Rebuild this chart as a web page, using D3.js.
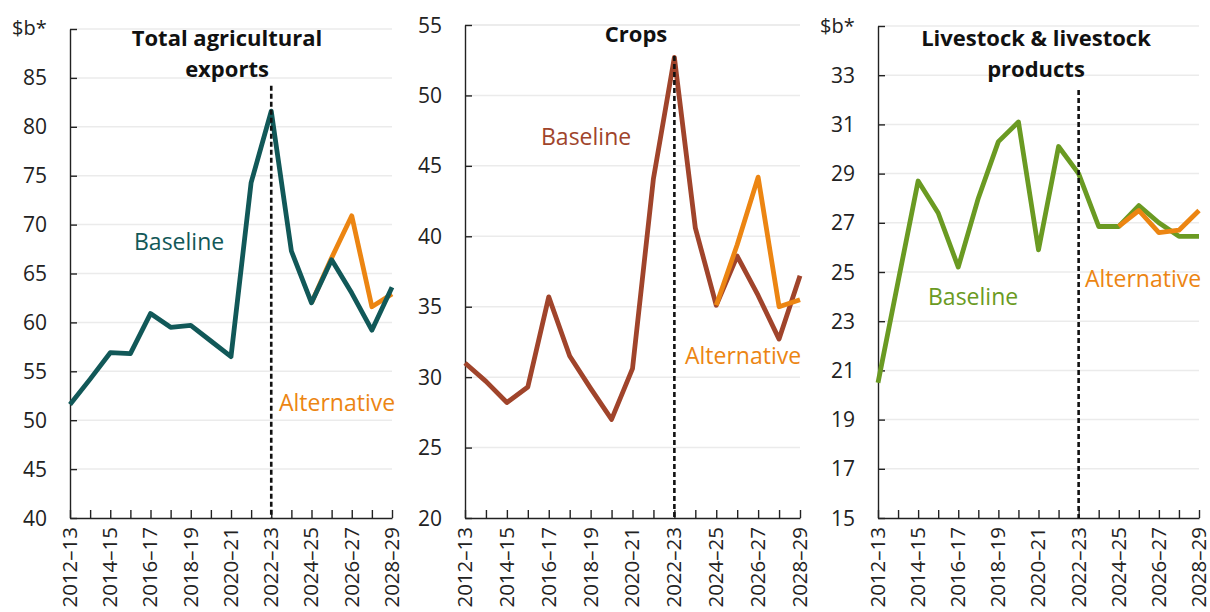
<!DOCTYPE html>
<html>
<head>
<meta charset="utf-8">
<script src="https://cdn.jsdelivr.net/npm/d3@7"></script>
<style>
  body { margin: 0; background: #fff; }
  svg { display: block; font-family: "Open Sans", sans-serif; }
</style>
</head>
<body>
<script>
// financial years on the x axis
const years = ["2012–13", "2013–14", "2014–15", "2015–16", "2016–17", "2017–18",
    "2018–19", "2019–20", "2020–21", "2021–22", "2022–23", "2023–24", "2024–25",
    "2025–26", "2026–27", "2027–28", "2028–29"]
const yearLabels = ["2012–13", "2014–15", "2016–17", "2018–19", "2020–21",
    "2022–23", "2024–25", "2026–27", "2028–29"]
const forecastStart = "2022–23"

// $b
const totalBaseline = [51.6, 54.2, 56.9, 56.8, 60.9, 59.5, 59.7, 58.1, 56.5, 74.3,
    81.6, 67.3, 62.0, 66.4, 63.0, 59.2, 63.6]
const totalAlternative = [null, null, null, null, null, null, null, null, null, null,
    null, null, 62.0, 66.6, 70.9, 61.6, 62.9]
const cropsBaseline = [31.0, 29.7, 28.2, 29.3, 35.7, 31.5, 29.2, 27.0, 30.6, 44.1,
    52.7, 40.6, 35.1, 38.6, 35.8, 32.7, 37.2]
const cropsAlternative = [null, null, null, null, null, null, null, null, null, null,
    null, null, 35.1, 39.4, 44.2, 35.0, 35.5]
const livestockBaseline = [20.5, 24.6, 28.7, 27.4, 25.2, 28.0, 30.3, 31.1, 25.9, 30.1,
    29.0, 26.85, 26.85, 27.7, 27.0, 26.45, 26.45]
const livestockAlternative = [null, null, null, null, null, null, null, null, null, null,
    null, null, 26.85, 27.5, 26.6, 26.7, 27.5]

const totalTicks = [40, 45, 50, 55, 60, 65, 70, 75, 80, 85]
const cropsTicks = [20, 25, 30, 35, 40, 45, 50, 55]
const livestockTicks = [15, 17, 19, 21, 23, 25, 27, 29, 31, 33]

const teal = "#115858", brown = "#a0442b", green = "#6a9a22", orange = "#ec8512"

const panels = [
    { title: ["Total agricultural", "exports"], titleX: 227, unit: true, unitX: 12, unitY: 35,
      baseline: totalBaseline, alternative: totalAlternative, ticks: totalTicks, domain: [40, 90],
      dashTop: 84.2, color: teal, altOnTop: false,
      x0: 70, x1: 392, top: 29, bottom: 518,
      baseLabel: [134, 250], altLabel: [279, 411] },
    { title: ["Crops"], titleX: 636, unit: false,
      baseline: cropsBaseline, alternative: cropsAlternative, ticks: cropsTicks, domain: [20, 55],
      dashTop: 52.8, color: brown, altOnTop: true,
      x0: 465, x1: 800, top: 25, bottom: 518,
      baseLabel: [541, 145], altLabel: [685, 364] },
    { title: ["Livestock & livestock", "products"], titleX: 1036, unit: true, unitX: 820, unitY: 33,
      baseline: livestockBaseline, alternative: livestockAlternative, ticks: livestockTicks, domain: [15, 35],
      dashTop: 32.4, color: green, altOnTop: true,
      x0: 878, x1: 1199, top: 26, bottom: 518,
      baseLabel: [928, 305], altLabel: [1085, 287] }
]

const svg = d3.select("body").append("svg")
    .attr("width", 1210)
    .attr("height", 612)

panels.forEach(p => {
    const g = svg.append("g")

    const x = d3.scalePoint()
        .domain(years)
        .range([p.x0, p.x1])

    const y = d3.scaleLinear()
        .domain(p.domain)
        .range([p.bottom, p.top])

    // gridlines
    g.append("g")
        .selectAll("line")
        .data(p.ticks.slice(1).concat([p.domain[1]]))
        .join("line")
        .attr("x1", p.x0).attr("x2", p.x1)
        .attr("y1", d => y(d)).attr("y2", d => y(d))
        .attr("stroke", "#ebebeb")
        .attr("stroke-width", 1.5)

    // y axis, ticks pointing inwards
    const yAxis = g.append("g")
        .attr("transform", `translate(${p.x0},0)`)
        .call(d3.axisRight(y)
            .tickValues(p.ticks.concat([p.domain[1]]).filter((d, i, a) => a.indexOf(d) === i))
            .tickSize(7)
            .tickSizeOuter(0)
            .tickFormat(""))
    yAxis.select(".domain").attr("stroke", "#222").attr("stroke-width", 1.4)
    yAxis.selectAll(".tick line").attr("stroke", "#222").attr("stroke-width", 1.4)

    g.append("g")
        .selectAll("text")
        .data(p.ticks)
        .join("text")
        .attr("x", p.x0 - 23)
        .attr("y", d => y(d))
        .attr("dy", "0.36em")
        .attr("text-anchor", "end")
        .attr("font-size", 21)
        .attr("fill", "#222")
        .text(d => d)

    // x axis, ticks pointing up
    const xAxis = g.append("g")
        .attr("transform", `translate(0,${p.bottom})`)
        .call(d3.axisTop(x)
            .tickSize(8)
            .tickSizeOuter(0)
            .tickFormat(""))
    xAxis.select(".domain").attr("stroke", "#222").attr("stroke-width", 1.4)
    xAxis.selectAll(".tick line").attr("stroke", "#222").attr("stroke-width", 1.4)

    g.append("g")
        .selectAll("text")
        .data(yearLabels)
        .join("text")
        .attr("transform", d => `translate(${x(d)},${p.bottom + 9}) rotate(-90)`)
        .attr("dy", "0.34em")
        .attr("text-anchor", "end")
        .attr("font-size", 20.5)
        .attr("fill", "#222")
        .text(d => d)

    const line = d3.line()
        .defined(d => d != null)
        .x((d, i) => x(years[i]))
        .y(d => y(d))

    const drawAlt = () => g.append("path")
        .datum(p.alternative)
        .attr("d", line)
        .attr("fill", "none")
        .attr("stroke", orange)
        .attr("stroke-width", 4.8)
        .attr("stroke-linejoin", "round")

    if (!p.altOnTop) drawAlt()
    g.append("path")
        .datum(p.baseline)
        .attr("d", line)
        .attr("fill", "none")
        .attr("stroke", p.color)
        .attr("stroke-width", 4.8)
        .attr("stroke-linejoin", "round")
    if (p.altOnTop) drawAlt()

    // start of projections, drawn over the lines
    g.append("line")
        .attr("x1", x(forecastStart)).attr("x2", x(forecastStart))
        .attr("y1", y(p.dashTop)).attr("y2", p.bottom)
        .attr("stroke", "#111")
        .attr("stroke-width", 2.6)
        .attr("stroke-dasharray", "5,3")

    // titles and labels
    g.append("text")
        .attr("text-anchor", "middle")
        .attr("font-size", 22)
        .attr("font-weight", "bold")
        .attr("fill", "#111")
        .selectAll("tspan")
        .data(p.title)
        .join("tspan")
        .attr("x", p.titleX)
        .attr("y", (d, i) => (p.title.length > 1 ? 46 : 42) + i * 30.5)
        .text(d => d)

    if (p.unit) {
        g.append("text")
            .attr("x", p.unitX).attr("y", p.unitY)
            .attr("font-size", 20)
            .attr("fill", "#222")
            .text("$b*")
    }

    g.append("text")
        .attr("x", p.baseLabel[0]).attr("y", p.baseLabel[1])
        .attr("font-size", 23)
        .attr("fill", p.color)
        .text("Baseline")

    g.append("text")
        .attr("x", p.altLabel[0]).attr("y", p.altLabel[1])
        .attr("font-size", 23)
        .attr("fill", orange)
        .text("Alternative")
})
</script>
</body>
</html>
